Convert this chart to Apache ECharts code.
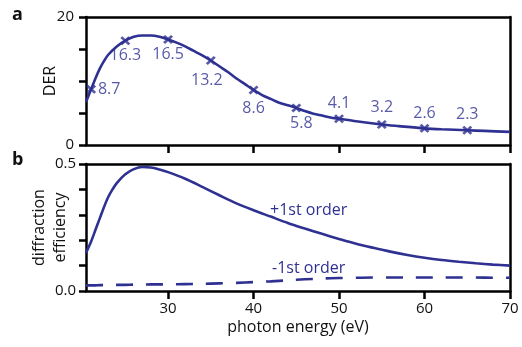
<!DOCTYPE html>
<html>
<head>
<meta charset="UTF-8">
<title>DER and diffraction efficiency</title>
<script src="https://cdn.jsdelivr.net/npm/echarts@6/dist/echarts.min.js"></script>
<style>body{margin:0;background:#fff}</style>
</head>
<body>
<div id="main" style="width:522px;height:347px"></div>
<script type="text/javascript">
// marked DER points (panel a)
var derX = [21, 25, 30, 35, 40, 45, 50, 55, 60, 65];
var derY = [8.7, 16.3, 16.5, 13.2, 8.6, 5.8, 4.1, 3.2, 2.6, 2.3];
// DER fitted curve
var derCurveX = [20.4, 21, 21.5, 22, 22.5, 23, 24, 25, 26, 27, 28, 29, 30, 31, 32, 33, 34, 35, 36, 37, 38, 39, 40, 41, 42, 43, 44, 45, 46, 47, 48, 49, 50, 52, 55, 57, 60, 62, 65, 67, 70];
var derCurveY = [6.7, 8.7, 10.4, 11.9, 13.1, 14.1, 15.4, 16.3, 16.9, 17.1, 17.1, 16.9, 16.5, 16.0, 15.4, 14.7, 14.0, 13.2, 12.3, 11.4, 10.4, 9.5, 8.6, 7.8, 7.2, 6.6, 6.2, 5.8, 5.3, 4.9, 4.6, 4.3, 4.1, 3.7, 3.2, 2.95, 2.6, 2.45, 2.3, 2.2, 2.05];
// diffraction efficiency (panel b)
var effX = [20.4, 21, 21.5, 22, 22.5, 23, 23.5, 24, 25, 26, 27, 28, 29, 30, 32, 34, 36, 38, 40, 42, 44, 46, 48, 50, 52, 54, 56, 58, 60, 62, 64, 66, 68, 70];
var plusFirst = [0.150, 0.195, 0.240, 0.285, 0.330, 0.370, 0.400, 0.425, 0.460, 0.480, 0.488, 0.486, 0.478, 0.468, 0.442, 0.410, 0.377, 0.345, 0.318, 0.293, 0.268, 0.246, 0.225, 0.205, 0.186, 0.170, 0.155, 0.142, 0.131, 0.122, 0.115, 0.109, 0.104, 0.100];
var minusFirst = [0.022, 0.022, 0.022, 0.023, 0.023, 0.023, 0.023, 0.024, 0.024, 0.025, 0.025, 0.026, 0.026, 0.026, 0.027, 0.028, 0.030, 0.032, 0.035, 0.038, 0.042, 0.046, 0.049, 0.051, 0.052, 0.053, 0.053, 0.053, 0.053, 0.053, 0.053, 0.053, 0.052, 0.052];
var xTicks = [30, 40, 50, 60, 70];

// label offsets for each marked point (style only)
var labelOffsets = [[18, 0], [0, 15], [0, 15], [-4, 20], [0, 18], [5, 16], [0, -15], [0, -17], [0, -15], [0, -16]];

var blue = '#2e3192';
var ink = '#000000';
var font = 'Open Sans';

function pairs(xs, ys) {
    var out = [];
    for (var i = 0; i < xs.length; i++) out.push([xs[i], ys[i]]);
    return out;
}

var markData = [];
for (var i = 0; i < derX.length; i++) {
    markData.push({
        value: [derX[i], derY[i]],
        label: { offset: labelOffsets[i] }
    });
}

function axisLine() {
    return { show: true, onZero: false, lineStyle: { color: ink, width: 2.5 } };
}
function axisTick(len, custom) {
    var t = { show: true, length: len, lineStyle: { color: ink, width: 2.5 } };
    if (custom) t.customValues = custom;
    return t;
}
function frameAxis(grid, pos, min, max) {
    return {
        gridIndex: grid, type: 'value', position: pos, min: min, max: max,
        axisLine: axisLine(), axisTick: { show: false }, axisLabel: { show: false }, splitLine: { show: false }
    };
}

var myChart = echarts.init(document.getElementById('main'));
var option = {
    animation: false,
    grid: [
        { left: 86, right: 12, top: 17, height: 128 },
        { left: 86, right: 12, top: 164, height: 127 }
    ],
    xAxis: [
        {
            gridIndex: 0, type: 'value', min: 20.4, max: 70,
            axisLine: axisLine(),
            axisTick: axisTick(8, xTicks),
            axisLabel: { show: false },
            splitLine: { show: false }
        },
        {
            gridIndex: 1, type: 'value', min: 20.4, max: 70,
            axisLine: axisLine(),
            axisTick: axisTick(8, xTicks),
            axisLabel: { customValues: xTicks, color: '#111', fontSize: 15, fontFamily: font, margin: 10 },
            splitLine: { show: false },
            name: 'photon energy (eV)', nameLocation: 'middle', nameGap: 28, nameMoveOverlap: false,
            nameTextStyle: { color: '#111', fontSize: 16, fontFamily: font }
        },
        frameAxis(0, 'top', 20.4, 70),
        frameAxis(1, 'top', 20.4, 70)
    ],
    yAxis: [
        {
            gridIndex: 0, type: 'value', min: 0, max: 20, interval: 5,
            axisLine: axisLine(),
            axisTick: axisTick(7),
            axisLabel: {
                color: '#111', fontSize: 15, fontFamily: font, margin: 12,
                formatter: function (v) { return (v === 0 || v === 20) ? String(v) : ''; }
            },
            splitLine: { show: false },
            name: 'DER', nameLocation: 'middle', nameGap: 28, nameMoveOverlap: false,
            nameTextStyle: { color: '#111', fontSize: 16, fontFamily: font }
        },
        {
            gridIndex: 1, type: 'value', min: 0, max: 0.5, interval: 0.1,
            axisLine: axisLine(),
            axisTick: axisTick(7),
            axisLabel: {
                color: '#111', fontSize: 15, fontFamily: font, margin: 10,
                formatter: function (v) {
                    return (Math.abs(v) < 1e-9 || Math.abs(v - 0.5) < 1e-9) ? v.toFixed(1) : '';
                }
            },
            splitLine: { show: false },
            name: 'diffraction\nefficiency', nameLocation: 'middle', nameGap: 15, nameMoveOverlap: false,
            nameTextStyle: { color: '#111', fontSize: 16, fontFamily: font, lineHeight: 21 }
        },
        frameAxis(0, 'right', 0, 20),
        frameAxis(1, 'right', 0, 0.5)
    ],
    series: [
        {
            type: 'line', xAxisIndex: 0, yAxisIndex: 0,
            data: pairs(derCurveX, derCurveY), smooth: 0.3,
            showSymbol: false, lineStyle: { color: blue, width: 2.6 }
        },
        {
            type: 'scatter', xAxisIndex: 0, yAxisIndex: 0,
            data: markData,
            symbol: 'path://M2,0L5,3L8,0L10,2L7,5L10,8L8,10L5,7L2,10L0,8L3,5L0,2Z',
            symbolSize: [10, 9],
            itemStyle: { color: blue },
            label: {
                show: true, position: 'inside', color: blue, fontSize: 16, fontFamily: font,
                formatter: function (p) { return p.value[1].toFixed(1); }
            }
        },
        {
            type: 'line', xAxisIndex: 1, yAxisIndex: 1,
            data: pairs(effX, plusFirst), smooth: 0.3,
            showSymbol: false, lineStyle: { color: blue, width: 2.6 }
        },
        {
            type: 'line', xAxisIndex: 1, yAxisIndex: 1,
            data: pairs(effX, minusFirst), smooth: 0.3,
            showSymbol: false, lineStyle: { color: blue, width: 2.6, type: [17, 13] }
        }
    ],
    graphic: [
        { type: 'text', style: { text: 'a', x: 12, y: 6, fontSize: 18, fontWeight: 'bold', fontFamily: font, fill: '#111' } },
        { type: 'text', style: { text: 'b', x: 12, y: 151, fontSize: 18, fontWeight: 'bold', fontFamily: font, fill: '#111' } },
        { type: 'text', style: { text: '+1st order', x: 270, y: 202, fontSize: 16, fontFamily: font, fill: blue } },
        { type: 'text', style: { text: '-1st order', x: 272, y: 260, fontSize: 16, fontFamily: font, fill: blue } }
    ]
};
myChart.setOption(option);
</script>
</body>
</html>
